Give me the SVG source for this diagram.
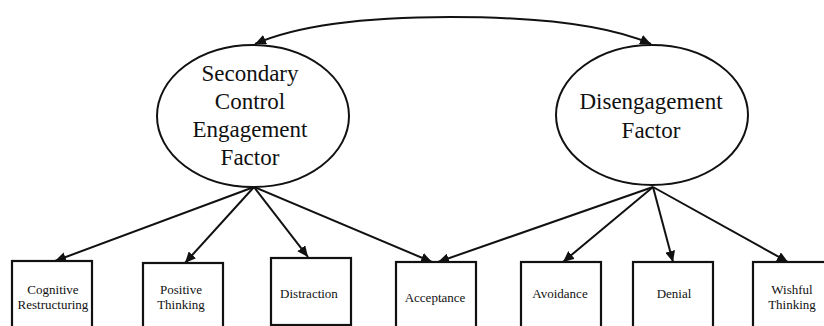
<svg xmlns="http://www.w3.org/2000/svg" width="824" height="326" viewBox="0 0 824 326">
  <defs>
    <marker id="arrow" markerUnits="userSpaceOnUse" markerWidth="12" markerHeight="10" refX="11" refY="5" orient="auto">
      <path d="M0,0 L11,5 L0,10 Z" fill="#111"/>
    </marker>
    <style>
      .factor { fill: #fff; stroke: #111; stroke-width: 2; }
      .indicator { fill: #fff; stroke: #111; stroke-width: 2.2; }
      .edge { fill: none; stroke: #111; stroke-width: 2; marker-end: url(#arrow); }
      .big { font-size: 23px; fill: #111; text-anchor: middle; }
      .small { font-size: 13px; fill: #111; text-anchor: middle; }
    </style>
  </defs>
  <rect width="824" height="326" fill="#fff"/>

  <!-- connectors -->
  <g id="connectors">
    <!-- factor covariance -->
    <path class="edge" d="M450,17 C540,17 610,26 651,44"/>
    <path class="edge" d="M450,17 C360,17 296,26 255,44"/>
    <!-- secondary control engagement loadings -->
    <line class="edge" x1="254" y1="187" x2="55" y2="261"/>
    <line class="edge" x1="254" y1="187" x2="185" y2="263"/>
    <line class="edge" x1="254" y1="187" x2="308" y2="257"/>
    <line class="edge" x1="254" y1="187" x2="432" y2="262"/>
    <!-- disengagement loadings -->
    <line class="edge" x1="653" y1="187" x2="438" y2="262"/>
    <line class="edge" x1="653" y1="187" x2="563" y2="262"/>
    <line class="edge" x1="653" y1="187" x2="673" y2="262"/>
    <line class="edge" x1="653" y1="187" x2="788" y2="262"/>
  </g>

  <g font-family="'Liberation Serif', 'Times New Roman', Times, 'DejaVu Serif', serif">
    <g id="secondary-control">
      <ellipse class="factor" cx="253" cy="116" rx="96" ry="71"/>
      <text class="big" x="250" y="81">Secondary</text>
      <text class="big" x="250" y="109">Control</text>
      <text class="big" x="250" y="137">Engagement</text>
      <text class="big" x="250" y="165">Factor</text>
    </g>

    <g id="disengagement">
      <ellipse class="factor" cx="652" cy="115" rx="96" ry="70"/>
      <text class="big" x="651" y="109">Disengagement</text>
      <text class="big" x="651" y="138">Factor</text>
    </g>

    <g id="cognitive-restructuring">
      <rect class="indicator" x="12" y="261" width="80" height="70"/>
      <text class="small" x="53" y="294">Cognitive</text>
      <text class="small" x="53" y="309">Restructuring</text>
    </g>

    <g id="positive-thinking">
      <rect class="indicator" x="143" y="263" width="80" height="70"/>
      <text class="small" x="181" y="294">Positive</text>
      <text class="small" x="181" y="309">Thinking</text>
    </g>

    <g id="distraction">
      <rect class="indicator" x="271" y="258" width="80" height="67"/>
      <text class="small" x="309" y="298">Distraction</text>
    </g>

    <g id="acceptance">
      <rect class="indicator" x="396" y="262" width="80" height="70"/>
      <text class="small" x="435" y="302">Acceptance</text>
    </g>

    <g id="avoidance">
      <rect class="indicator" x="521" y="262" width="80" height="70"/>
      <text class="small" x="560" y="298">Avoidance</text>
    </g>

    <g id="denial">
      <rect class="indicator" x="633" y="262" width="80" height="70"/>
      <text class="small" x="674" y="298">Denial</text>
    </g>

    <g id="wishful-thinking">
      <rect class="indicator" x="753" y="262" width="80" height="70"/>
      <text class="small" x="792" y="294">Wishful</text>
      <text class="small" x="792" y="309">Thinking</text>
    </g>
  </g>
</svg>
